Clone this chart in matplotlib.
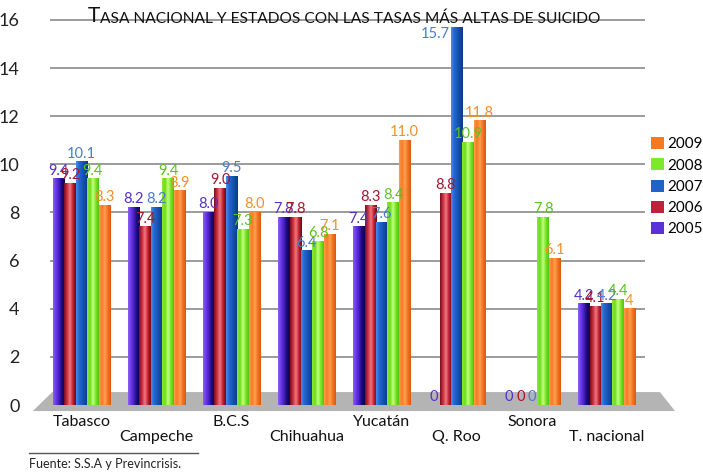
import numpy as np
import matplotlib
matplotlib.use("Agg")
import matplotlib.pyplot as plt
from matplotlib.colors import LinearSegmentedColormap
from matplotlib.patches import Polygon, Patch

plt.rcParams['font.family'] = ['Lato', 'DejaVu Sans']

categories = ['Tabasco', 'Campeche', 'B.C.S', 'Chihuahua', 'Yucatán', 'Q. Roo', 'Sonora', 'T. nacional']
years = ['2005', '2006', '2007', '2008', '2009']

# rates as printed above each bar
r2005 = ['9.4', '8.2', '8.0', '7.8', '7.4', '0', '0', '4.2']
r2006 = ['9.2', '7.4', '9.0', '7.8', '8.3', '8.8', '0', '4.1']
r2007 = ['10.1', '8.2', '9.5', '6.4', '7.6', '15.7', '0', '4.2']
r2008 = ['9.4', '9.4', '7.3', '6.8', '8.4', '10.9', '7.8', '4.4']
r2009 = ['8.3', '8.9', '8.0', '7.1', '11.0', '11.8', '6.1', '4']
series = [r2005, r2006, r2007, r2008, r2009]

yticks = [0, 2, 4, 6, 8, 10, 12, 14, 16]

# shading across each bar, left to right
bar_shades = [
    ['#8c5ef6', '#6a38e4', '#4420c0', '#1a0a78', '#100450'],
    ['#7a0c1c', '#c83040', '#f07880', '#c02030', '#6a0814'],
    ['#4a8cf0', '#2468d0', '#1a58bc', '#1248a0', '#0c3a88'],
    ['#8ee834', '#6edc1c', '#c4ff80', '#78e424', '#52c010'],
    ['#ff9c4c', '#f67c24', '#ffa050', '#f07020', '#d85c0c'],
]
solid = ['#5a30d8', '#c0203a', '#1f63c8', '#7ee82a', '#f47a22']
label_colors = ['#5530c8', '#a01830', '#4a7ccc', '#5cc020', '#f0902a']

fig = plt.figure(figsize=(7.03, 4.74), dpi=100)
W, H = 703, 474
ax = fig.add_axes([50 / W, (H - 413) / H, 595 / W, 401 / H])

x = np.arange(len(categories))
bw = 0.152

# grey floor under the bars
floor = Polygon([(-0.39, 0.54), (7.71, 0.54), (7.91, -0.25), (-0.65, -0.25)],
                closed=True, facecolor='#b4b4b4', edgecolor='none', zorder=1, clip_on=False)
ax.add_patch(floor)

# horizontal rules
ax.hlines(yticks[1:], -0.42, 7.51, color='#8a8a8a', lw=1.2, zorder=0.5)

grad = np.linspace(0, 1, 64).reshape(1, -1)
for k, vals in enumerate(series):
    heights = [float(v) for v in vals]
    pos = x + (k - 2) * bw
    bars = ax.bar(pos, heights, width=bw, color=solid[k], zorder=2)
    cmap = LinearSegmentedColormap.from_list(f's{k}', bar_shades[k])
    for b, h, txt in zip(bars, heights, vals):
        if h > 0:
            ax.imshow(grad, cmap=cmap, aspect='auto', zorder=2.5,
                      extent=[b.get_x(), b.get_x() + b.get_width(), 0, h])
        if h > 15:
            # too close to the title: put it beside the bar top
            ax.text(b.get_x() - 0.02, h, txt, ha='right', va='top',
                    fontsize=10.5, color=label_colors[k], zorder=4)
        else:
            ax.text(b.get_x() + b.get_width() / 2, h + 0.05, txt, ha='center', va='bottom',
                    fontsize=10.5, color=label_colors[k], zorder=4)

# category names on two staggered rows
for i, name in enumerate(categories):
    off = 9 if i % 2 == 0 else 24
    ax.annotate(name, xy=(i, 0), xycoords=('data', 'axes fraction'),
                xytext=(0, -off), textcoords='offset pixels',
                ha='center', va='center', fontsize=11.5, color='#111111')

ax.set_xlim(-0.42, 7.51)
ax.set_ylim(-0.33, 16.33)
ax.set_yticks(yticks)
ax.set_yticklabels([str(t) for t in yticks], fontsize=13, color='#222222')
ax.tick_params(axis='y', length=0, pad=22)
ax.set_xticks([])
for s in ax.spines.values():
    s.set_visible(False)

# title in small caps
t = fig.text(88 / W, (H - 22) / H, 'T', fontsize=15, ha='left', va='baseline', color='#111111')
ax.annotate('ASA NACIONAL Y ESTADOS CON LAS TASAS MÁS ALTAS DE SUICIDO',
            xy=(1, 0), xycoords=t, xytext=(0, 0), textcoords='offset pixels',
            ha='left', va='bottom', fontsize=11.2, color='#111111', annotation_clip=False)

# legend, newest year on top
handles = [Patch(facecolor=solid[k], edgecolor='none', label=years[k]) for k in range(4, -1, -1)]
fig.legend(handles=handles, loc='upper left', bbox_to_anchor=(651 / W, (H - 137) / H),
           frameon=False, fontsize=11, handlelength=0.85, handleheight=0.85,
           handletextpad=0.2, labelspacing=0.45, borderpad=0, borderaxespad=0)

# source note
fig.add_artist(plt.Line2D([29 / W, 198 / W], [(H - 453) / H] * 2, color='#555555', lw=1))
fig.text(29 / W, (H - 464) / H, 'Fuente: S.S.A y Previncrisis.', fontsize=9,
         ha='left', va='center', color='#222222')

fig.savefig('out.png', dpi=100)
